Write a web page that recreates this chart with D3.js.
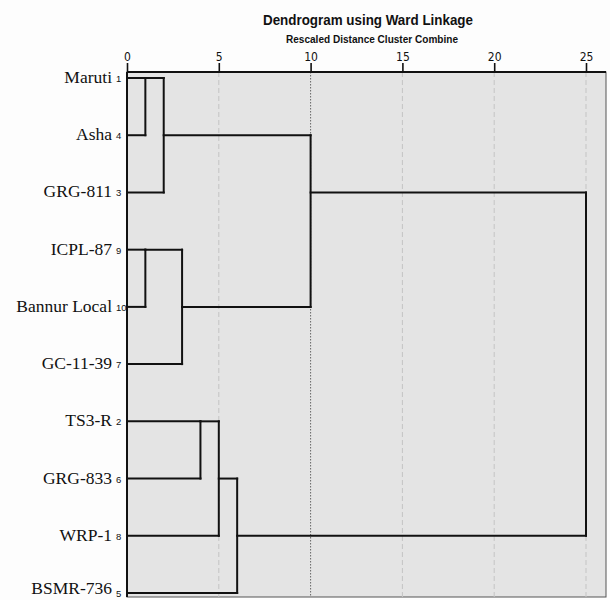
<!DOCTYPE html>
<html><head><meta charset="utf-8">
<script src="https://cdn.jsdelivr.net/npm/d3@7"></script>
<style>body{margin:0;background:#fdfdfd;} svg{display:block;}</style>
</head><body>
<script>
// ---- data ----
const labels = ["Maruti","Asha","GRG-811","ICPL-87","Bannur Local","GC-11-39","TS3-R","GRG-833","WRP-1","BSMR-736"];
const caseNumbers = [1,4,3,9,10,7,2,6,8,5];
// agglomeration: node ids 0-9 are leaves, new clusters get ids 10,11,...
const mergeLeft  = [0, 3, 10, 11, 6, 14, 15, 12, 17];
const mergeRight = [1, 4, 2, 5, 7, 8, 9, 13, 16];
const mergeDist  = [1, 1, 2, 3, 4, 5, 6, 10, 25];
const tickValues = [0,5,10,15,20,25];
const title = "Dendrogram using Ward Linkage";
const subtitle = "Rescaled Distance Cluster Combine";

const W = 610, H = 600;
const svg = d3.select("body").append("svg").attr("width", W).attr("height", H);

const x = d3.scaleLinear().domain([0,25]).range([127,586]);
const y = d3.scalePoint().domain(d3.range(labels.length)).range([78,593]);
const plotL = 127, plotR = 606, plotT = 72, plotB = 597;

// background
svg.append("rect").attr("x", plotL).attr("y", plotT).attr("width", plotR-plotL).attr("height", plotB-plotT)
  .attr("fill", "#e4e4e4").attr("stroke", "#555").attr("stroke-width", 1);

// grid lines
svg.append("g").selectAll("line").data(tickValues.filter(d => d > 0)).join("line")
  .attr("x1", d => x(d)).attr("x2", d => x(d)).attr("y1", plotT).attr("y2", plotB)
  .attr("stroke", d => d === 10 ? "#666" : "#c4c4c4")
  .attr("stroke-width", 1)
  .attr("stroke-dasharray", d => d === 10 ? "1.5,1.5" : "5,3");

// axis
const axis = d3.axisTop(x).tickValues(tickValues).tickSize(9).tickPadding(2);
const ag = svg.append("g").attr("transform", `translate(0,${plotT})`).call(axis);
ag.select(".domain").remove();
ag.selectAll(".tick line").attr("stroke", "#111").attr("stroke-width", 1.6);
ag.selectAll(".tick text").attr("fill", "#111")
  .style("font-family", "'Liberation Sans Narrow','DejaVu Sans Condensed','Liberation Sans',Arial")
  .style("font-size", "12px");
svg.append("line").attr("x1", plotL).attr("x2", plotR).attr("y1", plotT).attr("y2", plotT)
  .attr("stroke", "#111").attr("stroke-width", 2);
svg.append("line").attr("x1", plotL).attr("x2", plotL).attr("y1", plotT).attr("y2", plotB)
  .attr("stroke", "#111").attr("stroke-width", 2);

// titles
svg.append("text").attr("x", 368).attr("y", 25).attr("text-anchor", "middle")
  .attr("textLength", 210).attr("lengthAdjust", "spacingAndGlyphs")
  .style("font-family", "'Liberation Sans',Arial").style("font-weight", "bold").style("font-size", "15px")
  .attr("fill", "#111").text(title);
svg.append("text").attr("x", 372).attr("y", 43).attr("text-anchor", "middle")
  .attr("textLength", 172).attr("lengthAdjust", "spacingAndGlyphs")
  .style("font-family", "'Liberation Sans',Arial").style("font-weight", "bold").style("font-size", "10px")
  .attr("fill", "#111").text(subtitle);

// leaf labels
const lg = svg.append("g");
labels.forEach((lab, i) => {
  lg.append("text").attr("x", 112).attr("y", Math.min(y(i) + 5, 594)).attr("text-anchor", "end")
    .style("font-family", "'Liberation Serif','Times New Roman',serif").style("font-size", "17.5px")
    .attr("fill", "#111").text(lab);
  lg.append("text").attr("x", 116).attr("y", y(i) + 4)
    .style("font-family", "'Liberation Sans',Arial").style("font-size", "9.5px")
    .attr("fill", "#111").text(caseNumbers[i]);
});

// dendrogram
const nodeRow = {}, nodeDist = {};
labels.forEach((_, i) => { nodeRow[i] = i; nodeDist[i] = 0; });
const segs = [];
mergeDist.forEach((d, k) => {
  const id = labels.length + k;
  const a = mergeLeft[k], b = mergeRight[k];
  const ra = nodeRow[a], rb = nodeRow[b];
  segs.push([nodeDist[a], ra, d, ra]);
  segs.push([nodeDist[b], rb, d, rb]);
  segs.push([d, ra, d, rb]);
  nodeRow[id] = Math.floor((ra + rb) / 2);
  nodeDist[id] = d;
});
svg.append("g").selectAll("line").data(segs).join("line")
  .attr("x1", s => x(s[0])).attr("y1", s => y(s[1]))
  .attr("x2", s => x(s[2])).attr("y2", s => y(s[3]))
  .attr("stroke", "#111").attr("stroke-width", 2).attr("stroke-linecap", "square");
</script>
</body></html>
